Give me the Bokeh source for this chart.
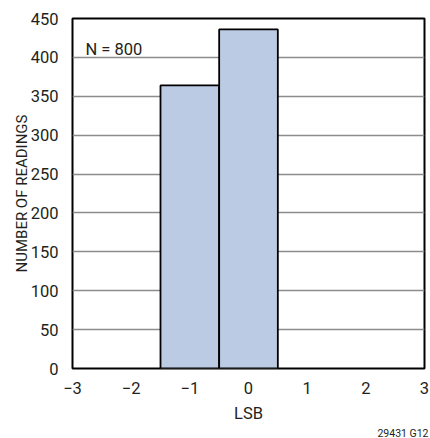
from bokeh.plotting import figure
from bokeh.models import Range1d, Label, FixedTicker, Title
from bokeh.embed import file_html
from bokeh.resources import INLINE

# data
bin_centers = [-1, 0]
counts = [364, 436]
x_ticks = [-3, -2, -1, 0, 1, 2, 3]
x_tick_labels = ["\u22123", "\u22122", "\u22121", "0", "1", "2", "3"]
y_ticks = [0, 50, 100, 150, 200, 250, 300, 350, 400, 450]
n_text = "N = 800"
fig_code = "29431 G12"

FONT = "Roboto"
TXT = "#231f20"

p = figure(width=430, height=438, output_backend="svg", toolbar_location=None,
           x_range=Range1d(-3, 3), y_range=Range1d(0, 450),
           min_border_left=72, min_border_right=6, min_border_top=18, min_border_bottom=68)

p.vbar(x=bin_centers, width=1, top=counts, bottom=0,
       fill_color="#bccbe4", line_color="black", line_width=1.8)

p.outline_line_color = "black"
p.outline_line_width = 2
p.outline_line_alpha = 1

p.xgrid.grid_line_color = None
p.ygrid.grid_line_color = "#8c8c8c"
p.ygrid.grid_line_width = 1.5
p.ygrid.ticker = FixedTicker(ticks=y_ticks)

p.xaxis.ticker = FixedTicker(ticks=x_ticks)
p.xaxis.major_label_overrides = {t: l for t, l in zip(x_ticks, x_tick_labels)}
p.yaxis.ticker = FixedTicker(ticks=y_ticks)

for ax in (p.xaxis, p.yaxis):
    ax.axis_line_color = None
    ax.major_tick_line_color = None
    ax.minor_tick_line_color = None
    ax.major_label_text_font = FONT
    ax.major_label_text_font_size = "16.5px"
    ax.major_label_text_color = TXT
    ax.axis_label_text_font = FONT
    ax.axis_label_text_font_style = "normal"
    ax.axis_label_text_color = TXT

p.xaxis.axis_label = "LSB"
p.xaxis.axis_label_text_font_size = "16.5px"
p.xaxis.major_label_standoff = 7
p.xaxis.axis_label_standoff = 7
p.yaxis.axis_label = "NUMBER OF READINGS"
p.yaxis.axis_label_text_font_size = "15px"
p.yaxis.major_label_standoff = 8
p.yaxis.axis_label_standoff = -3

p.add_layout(Label(x=-2.78, y=410, text=n_text, text_font=FONT, text_font_size="16.5px",
                   text_color=TXT, text_baseline="alphabetic"))
p.add_layout(Title(text=fig_code, align="right", text_font=FONT, text_font_size="10.5px",
                   text_font_style="normal", text_color=TXT, standoff=-2, offset=-4), "below")

open("out.html", "w").write(file_html(p, INLINE))
